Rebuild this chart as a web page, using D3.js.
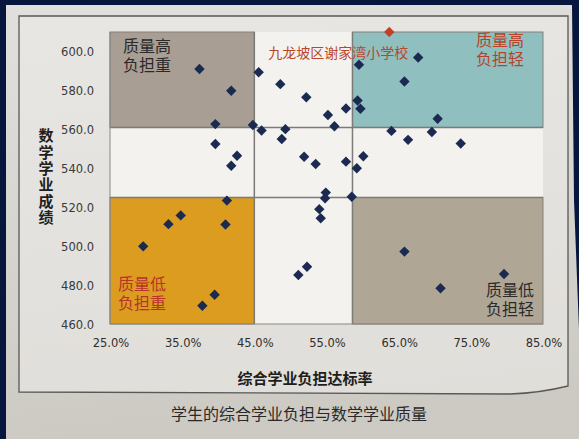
<!DOCTYPE html>
<html>
<head>
<meta charset="utf-8">
<script src="https://cdn.jsdelivr.net/npm/d3@7"></script>
<style>
  html, body { margin: 0; padding: 0; background: #06163c; }
  #wrap { position: relative; width: 579px; height: 439px; }
  svg { display: block; }
  .qlabel { position: absolute; font-family: 'DejaVu Sans', 'Noto Sans CJK SC', sans-serif;
            font-size: 16px; line-height: 19px; white-space: nowrap; }
</style>
</head>
<body>
<div id="wrap"><svg id="chart" width="579" height="439"></svg></div>
<script>
// ---- data ----
const burdenRate = [37.4, 45.6, 41.8, 48.6, 52.2, 55.2, 57.7, 56.1, 39.6, 44.8,
                    46.0, 49.3, 48.8, 39.6, 42.6, 41.8, 51.9, 53.5, 57.7, 59.2,
                    59.5, 67.7, 65.8, 59.3, 59.7, 70.4, 64.0, 66.3, 69.6, 73.6,
                    60.1, 54.9, 54.8, 58.5, 54.0, 54.2, 52.3, 51.1, 41.2, 34.8,
                    33.1, 41.0, 29.6, 39.5, 37.8, 65.8, 70.8, 79.6];
const mathScore  = [591.0, 589.3, 579.8, 583.2, 576.5, 567.4, 570.7, 561.6, 562.7, 562.2,
                    559.4, 560.1, 555.0, 552.5, 546.4, 541.3, 545.9, 542.2, 543.4, 540.0,
                    593.2, 596.9, 584.6, 574.8, 570.6, 565.4, 559.2, 554.6, 558.6, 552.7,
                    546.2, 527.5, 524.6, 525.4, 519.0, 514.3, 489.4, 485.2, 523.4, 515.8,
                    511.3, 511.1, 499.9, 475.0, 469.4, 497.2, 478.4, 485.7];
const highlightName = ["九龙坡区谢家湾小学校"];
const highlightX = [63.7];
const highlightY = [610.0];

const xTickValues = [25, 35, 45, 55, 65, 75, 85];
const xTickLabels = ["25.0%", "35.0%", "45.0%", "55.0%", "65.0%", "75.0%", "85.0%"];
const yTickValues = [460, 480, 500, 520, 540, 560, 580, 600];
const yTickLabels = ["460.0", "480.0", "500.0", "520.0", "540.0", "560.0", "580.0", "600.0"];

const burdenCuts = [45, 58.6];     // x thresholds
const scoreCuts  = [525, 561];     // y thresholds
const quadNames  = [["质量高", "负担重"], ["质量高", "负担轻"], ["质量低", "负担重"], ["质量低", "负担轻"]];

const xTitle = "综合学业负担达标率";
const yTitle = "数学学业成绩";
const caption = "学生的综合学业负担与数学学业质量";

// ---- drawing ----
const svg = d3.select("#chart");
const cjk = "'Noto Sans CJK SC', 'Noto Sans', sans-serif";

const defs = svg.append("defs");
const grad = defs.append("linearGradient").attr("id", "paper")
  .attr("x1", 0).attr("y1", 0).attr("x2", 0.15).attr("y2", 1);
grad.append("stop").attr("offset", "0%").attr("stop-color", "#e1e0dc");
grad.append("stop").attr("offset", "100%").attr("stop-color", "#cdcac4");

// paper
svg.append("path")
  .attr("d", "M6,5 L572,5 L574,200 L579,330 L579,439 L6,439 Z")
  .attr("fill", "url(#paper)");

// chart frame
svg.append("path")
  .attr("d", "M19,16 L568,16 L568,386 Q540,393 510,394 L19,392 Z")
  .attr("fill", "#ecebe8").attr("fill-opacity", 0.6)
  .attr("stroke", "#5a5855").attr("stroke-width", 1.3);

const x = d3.scaleLinear().domain([25, 85]).range([110, 543]);
const y = d3.scaleLinear().domain([460, 610]).range([324, 32]);

// plot background (white cross)
svg.append("rect")
  .attr("x", x(25)).attr("y", y(610))
  .attr("width", x(85) - x(25)).attr("height", y(460) - y(610))
  .attr("fill", "#f3f2ef");

// quadrant boxes
const boxes = [
  { x0: 25, x1: burdenCuts[0], y0: scoreCuts[1], y1: 610, fill: "#a89e93" },
  { x0: burdenCuts[1], x1: 85, y0: scoreCuts[1], y1: 610, fill: "#8fbfbf" },
  { x0: 25, x1: burdenCuts[0], y0: 460, y1: scoreCuts[0], fill: "#db9c20" },
  { x0: burdenCuts[1], x1: 85, y0: 460, y1: scoreCuts[0], fill: "#b0a696" }
];
svg.append("g").selectAll("rect").data(boxes).join("rect")
  .attr("x", d => x(d.x0)).attr("y", d => y(d.y1))
  .attr("width", d => x(d.x1) - x(d.x0)).attr("height", d => y(d.y0) - y(d.y1))
  .attr("fill", d => d.fill)
  .attr("stroke", "#85807a").attr("stroke-width", 1);

// dividing lines
const lines = svg.append("g").attr("stroke", "#7d7b78").attr("stroke-width", 1.5);
burdenCuts.forEach(v => lines.append("line")
  .attr("x1", x(v)).attr("x2", x(v)).attr("y1", y(610)).attr("y2", y(460)));
scoreCuts.forEach(v => lines.append("line")
  .attr("x1", x(25)).attr("x2", x(85)).attr("y1", y(v)).attr("y2", y(v)));
// left / bottom edges
svg.append("line").attr("x1", x(25)).attr("x2", x(25)).attr("y1", y(610)).attr("y2", y(460))
  .attr("stroke", "#8a8884").attr("stroke-width", 1);
svg.append("line").attr("x1", x(25)).attr("x2", x(85)).attr("y1", y(460)).attr("y2", y(460))
  .attr("stroke", "#8a8884").attr("stroke-width", 1);

// quadrant labels (HTML overlay, two lines each)
const quadPos = [
  { x: 25, y: 610, side: "left", dx: 13, dy: 5, color: "#2b2a28" },
  { x: 85, y: 610, side: "right", dx: 19, dy: -1, color: "#b5452a" },
  { x: 25, y: 460, side: "left", dx: 8, dy: -49, color: "#b8332a" },
  { x: 85, y: 460, side: "right", dx: 9, dy: -43, color: "#2b2a28" }
];
const wrap = d3.select("#wrap");
quadNames.forEach((lbl, i) => {
  const p = quadPos[i];
  const div = wrap.append("div").attr("class", "qlabel")
    .style("top", (y(p.y) + p.dy) + "px")
    .style("color", p.color)
    .style("text-align", p.side === "left" ? "left" : "right")
    .html(lbl.join("<br>"));
  if (p.side === "left") div.style("left", (x(p.x) + p.dx) + "px");
  else div.style("right", (579 - x(p.x) + p.dx) + "px");
});

// highlight label
svg.append("text")
  .attr("x", x(highlightX[0]) - 51).attr("y", y(highlightY[0]) + 26)
  .attr("text-anchor", "middle")
  .attr("font-family", cjk).attr("font-size", 14)
  .attr("fill", "#b9472b")
  .text(highlightName[0]);

// points
const diamond = (cx, cy, r) => `M${cx},${cy - r}L${cx + r},${cy}L${cx},${cy + r}L${cx - r},${cy}Z`;
svg.append("g").selectAll("path").data(burdenRate.map((v, i) => [v, mathScore[i]])).join("path")
  .attr("d", d => diamond(x(d[0]), y(d[1]), 5.2))
  .attr("fill", "#1b2a50");
svg.append("g").selectAll("path").data(highlightX.map((v, i) => [v, highlightY[i]])).join("path")
  .attr("d", d => diamond(x(d[0]), y(d[1]), 5.2))
  .attr("fill", "#c2402a");

// y axis labels
svg.append("g").selectAll("text").data(yTickValues).join("text")
  .attr("x", 94).attr("y", d => y(d) + 4.5)
  .attr("text-anchor", "end")
  .attr("font-family", "'DejaVu Sans', sans-serif").attr("font-size", 11.5)
  .attr("fill", "#3a3937")
  .text((d, i) => yTickLabels[i]);

// x axis labels
svg.append("g").selectAll("text").data(xTickValues).join("text")
  .attr("x", d => x(d) + 1).attr("y", 347)
  .attr("text-anchor", "middle")
  .attr("font-family", "'DejaVu Sans', sans-serif").attr("font-size", 11.5)
  .attr("fill", "#2f2e2c")
  .text((d, i) => xTickLabels[i]);

// axis titles
svg.append("text")
  .attr("x", 305).attr("y", 384)
  .attr("text-anchor", "middle")
  .attr("font-family", cjk).attr("font-size", 15).attr("font-weight", "bold")
  .attr("fill", "#1f1e1c")
  .text(xTitle);

svg.append("text")
  .attr("x", 46).attr("y", 128)
  .attr("font-family", cjk).attr("font-size", 15).attr("font-weight", "bold")
  .attr("fill", "#1f1e1c")
  .style("writing-mode", "vertical-rl")
  .style("text-orientation", "upright")
  .style("letter-spacing", "1.4px")
  .text(yTitle);

// caption
svg.append("text")
  .attr("x", 299).attr("y", 420)
  .attr("text-anchor", "middle")
  .attr("font-family", cjk).attr("font-size", 16)
  .attr("fill", "#2a2927")
  .text(caption);
</script>
</body>
</html>
